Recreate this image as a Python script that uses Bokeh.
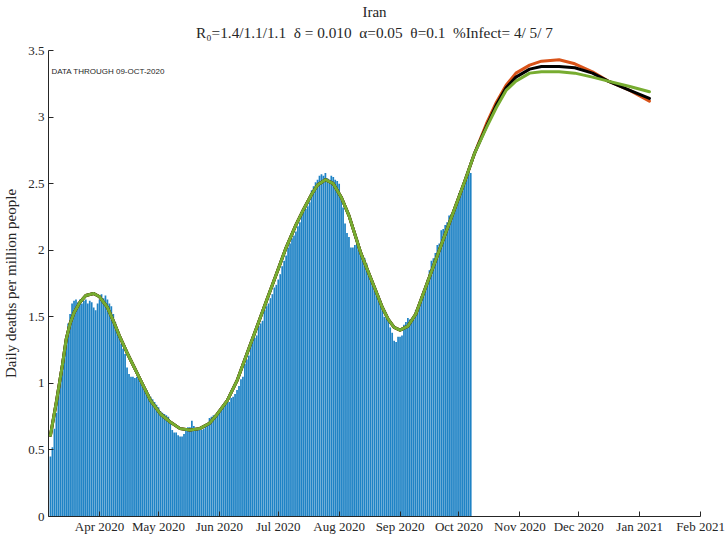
import datetime as dt
from bokeh.plotting import figure
from bokeh.models import (Range1d, FixedTicker, DatetimeTickFormatter,
                          NumeralTickFormatter, Label, Title)
from bokeh.embed import file_html
from bokeh.resources import INLINE

# ---------------- data ----------------
bar_start = "2020-03-07"
daily_deaths = [
    0.45, 0.52, 0.66, 0.78, 0.92, 1.02, 1.12, 1.20, 1.33, 1.45,
    1.52, 1.60, 1.62, 1.63, 1.61, 1.63, 1.60, 1.62, 1.63, 1.60,
    1.62, 1.61, 1.57, 1.55, 1.60, 1.63, 1.67, 1.64, 1.66, 1.63,
    1.60, 1.58, 1.52, 1.46, 1.40, 1.35, 1.30, 1.26, 1.22, 1.12,
    1.07, 1.05, 1.05, 1.04, 1.05, 1.03, 1.00, 0.99, 0.97, 0.95,
    0.92, 0.90, 0.88, 0.86, 0.84, 0.82, 0.79, 0.78, 0.77, 0.76,
    0.75, 0.70, 0.65, 0.63, 0.63, 0.61, 0.60, 0.60, 0.62, 0.66,
    0.67, 0.67, 0.72, 0.68, 0.66, 0.66, 0.65, 0.65, 0.66, 0.68,
    0.70, 0.74, 0.75, 0.76, 0.75, 0.77, 0.79, 0.81, 0.82, 0.84,
    0.86, 0.86, 0.89, 0.90, 0.92, 0.95, 0.98, 1.03, 1.05, 1.15,
    1.18, 1.21, 1.32, 1.33, 1.34, 1.36, 1.43, 1.45, 1.47, 1.55,
    1.58, 1.60, 1.64, 1.67, 1.72, 1.74, 1.78, 1.82, 1.88, 1.92,
    1.96, 2.02, 2.05, 2.09, 2.11, 2.14, 2.18, 2.21, 2.27, 2.29,
    2.31, 2.33, 2.36, 2.45, 2.48, 2.51, 2.53, 2.56, 2.57, 2.56,
    2.58, 2.54, 2.53, 2.56, 2.55, 2.53, 2.52, 2.50, 2.38, 2.32,
    2.20, 2.13, 2.10, 2.02, 2.02, 2.04, 2.05, 2.00, 1.98, 1.96,
    1.94, 1.90, 1.83, 1.80, 1.77, 1.72, 1.69, 1.66, 1.62, 1.55,
    1.50, 1.49, 1.48, 1.42, 1.38, 1.32, 1.31, 1.35, 1.35, 1.36,
    1.44, 1.46, 1.49, 1.48, 1.47, 1.48, 1.55, 1.56, 1.58, 1.65,
    1.68, 1.72, 1.78, 1.85, 1.92, 1.94, 1.98, 2.04, 2.05, 2.15,
    2.16, 2.19, 2.21, 2.26, 2.27, 2.28, 2.31, 2.34, 2.43, 2.46,
    2.50, 2.53, 2.57, 2.60, 2.58,
]

# model fit, common part (all three scenarios coincide up to the data end)
fit_dates = [
    "2020-03-07", "2020-03-10", "2020-03-13", "2020-03-15", "2020-03-17",
    "2020-03-19", "2020-03-22", "2020-03-25", "2020-03-29", "2020-04-01",
    "2020-04-05", "2020-04-08", "2020-04-11", "2020-04-15", "2020-04-18",
    "2020-04-22", "2020-04-27", "2020-05-02", "2020-05-07", "2020-05-12",
    "2020-05-17", "2020-05-22", "2020-05-27", "2020-05-31", "2020-06-05",
    "2020-06-10", "2020-06-15", "2020-06-20", "2020-06-25", "2020-06-30",
    "2020-07-05", "2020-07-10", "2020-07-14", "2020-07-18", "2020-07-21",
    "2020-07-25", "2020-07-29", "2020-08-02", "2020-08-06", "2020-08-09",
    "2020-08-12", "2020-08-16", "2020-08-19", "2020-08-23", "2020-08-26",
    "2020-08-29", "2020-09-01", "2020-09-05", "2020-09-09", "2020-09-14",
    "2020-09-19", "2020-09-24", "2020-09-29", "2020-10-04", "2020-10-09",
]
fit_values = [
    0.61, 0.86, 1.13, 1.33, 1.45,
    1.53, 1.61, 1.66, 1.675, 1.65,
    1.57, 1.47, 1.36, 1.23, 1.14,
    1.02, 0.87, 0.77, 0.71, 0.66,
    0.65, 0.66, 0.70, 0.77, 0.87,
    1.02, 1.22, 1.42, 1.62, 1.82,
    2.02, 2.19, 2.31, 2.42, 2.49,
    2.53, 2.50, 2.40, 2.26, 2.12,
    1.98, 1.83, 1.72, 1.57, 1.48,
    1.42, 1.40, 1.43, 1.52, 1.72,
    1.92, 2.12, 2.32, 2.52, 2.73,
]

# projections after the data end
proj_dates = [
    "2020-10-15", "2020-10-20", "2020-10-25", "2020-10-30", "2020-11-06",
    "2020-11-12", "2020-11-21", "2020-11-29", "2020-12-08", "2020-12-16",
    "2020-12-27", "2021-01-06",
]
proj_orange = [2.95, 3.11, 3.24, 3.33, 3.39, 3.42, 3.43, 3.40, 3.34, 3.27, 3.20, 3.12]
proj_black = [2.93, 3.09, 3.22, 3.30, 3.36, 3.38, 3.38, 3.37, 3.33, 3.27, 3.20, 3.14]
proj_green = [2.92, 3.07, 3.20, 3.27, 3.33, 3.34, 3.34, 3.33, 3.30, 3.27, 3.23, 3.19]

month_ticks = ["2020-04-01", "2020-05-01", "2020-06-01", "2020-07-01", "2020-08-01",
               "2020-09-01", "2020-10-01", "2020-11-01", "2020-12-01", "2021-01-01",
               "2021-02-01"]
y_ticks = [0, 0.5, 1, 1.5, 2, 2.5, 3, 3.5]

title_text = "Iran"
SP = " \u00a0"
subtitle_text = ("R\u2080=1.4/1.1/1.1" + SP + "\u03b4 = 0.010" + SP + "\u03b1=0.05"
                 + SP + "\u03b8=0.1" + SP + "%Infect= 4/ 5/ 7")
note_text = "DATA THROUGH 09-OCT-2020"
y_label = "Daily deaths per million people"

# ---------------- helpers ----------------
def d(s):
    return dt.datetime.strptime(s, "%Y-%m-%d")

def ms(x):
    return (x - dt.datetime(1970, 1, 1)).total_seconds() * 1000.0

b0 = d(bar_start)
bar_x = [b0 + dt.timedelta(days=i) for i in range(len(daily_deaths))]
fit_x = [d(s) for s in fit_dates]
proj_x = [d(s) for s in proj_dates]

# ---------------- figure ----------------
TXT = "#262626"
SERIF = "Liberation Serif"
FH = 466

p = figure(width=727, height=536, x_axis_type="datetime", title=None,
           output_backend="svg", toolbar_location=None,
           x_range=Range1d(d("2020-03-06"), d("2021-02-01")),
           y_range=Range1d(0, 3.5),
           min_border_left=46, min_border_right=27,
           min_border_top=50, min_border_bottom=20)
p.outline_line_color = None
p.background_fill_color = "white"
p.border_fill_color = "white"
p.xgrid.visible = False
p.ygrid.visible = False

p.vbar(x=bar_x, top=daily_deaths, width=0.88 * 86400000,
       fill_color="#0072BD", fill_alpha=0.88, line_color=None)

for vals, col in ((proj_orange, "#D95319"), (proj_black, "#000000"), (proj_green, "#77AC30")):
    p.line(fit_x + proj_x, fit_values + vals, line_color=col, line_width=3,
           line_join="round", line_cap="round")

# axes
xa = p.xaxis[0]
xa.ticker = FixedTicker(ticks=[ms(d(s)) for s in month_ticks])
xa.formatter = DatetimeTickFormatter(months="%b %Y", days="%b %Y", years="%b %Y")
ya = p.yaxis[0]
ya.ticker = FixedTicker(ticks=y_ticks)
ya.formatter = NumeralTickFormatter(format="0.[0]")
for ax in (xa, ya):
    ax.major_tick_in = 5
    ax.major_tick_out = 0
    ax.minor_tick_line_color = None
    ax.axis_line_color = TXT
    ax.major_tick_line_color = TXT
    ax.major_label_text_color = TXT
    ax.major_label_text_font = SERIF
    ax.major_label_text_font_size = "13px"
xa.major_label_standoff = 2
ya.major_label_standoff = 4
ya.axis_label = y_label
ya.axis_label_text_font = SERIF
ya.axis_label_text_font_size = "15px"
ya.axis_label_text_font_style = "normal"
ya.axis_label_text_color = TXT
ya.axis_label_standoff = 6

# titles
p.add_layout(Title(text=subtitle_text, align="center", text_font=SERIF,
                   text_font_size="15.3px", text_font_style="normal",
                   text_color=TXT, standoff=20), "above")
p.add_layout(Title(text=title_text, align="center", text_font=SERIF,
                   text_font_size="15px", text_font_style="normal",
                   text_color=TXT, standoff=-16), "above")

p.add_layout(Label(x=3, y=FH - 21, x_units="screen", y_units="screen",
                   text=note_text, text_font="Liberation Sans", text_font_size="8px",
                   text_color=TXT, text_align="left", text_baseline="middle"))

open("out.html", "w").write(file_html(p, INLINE))
